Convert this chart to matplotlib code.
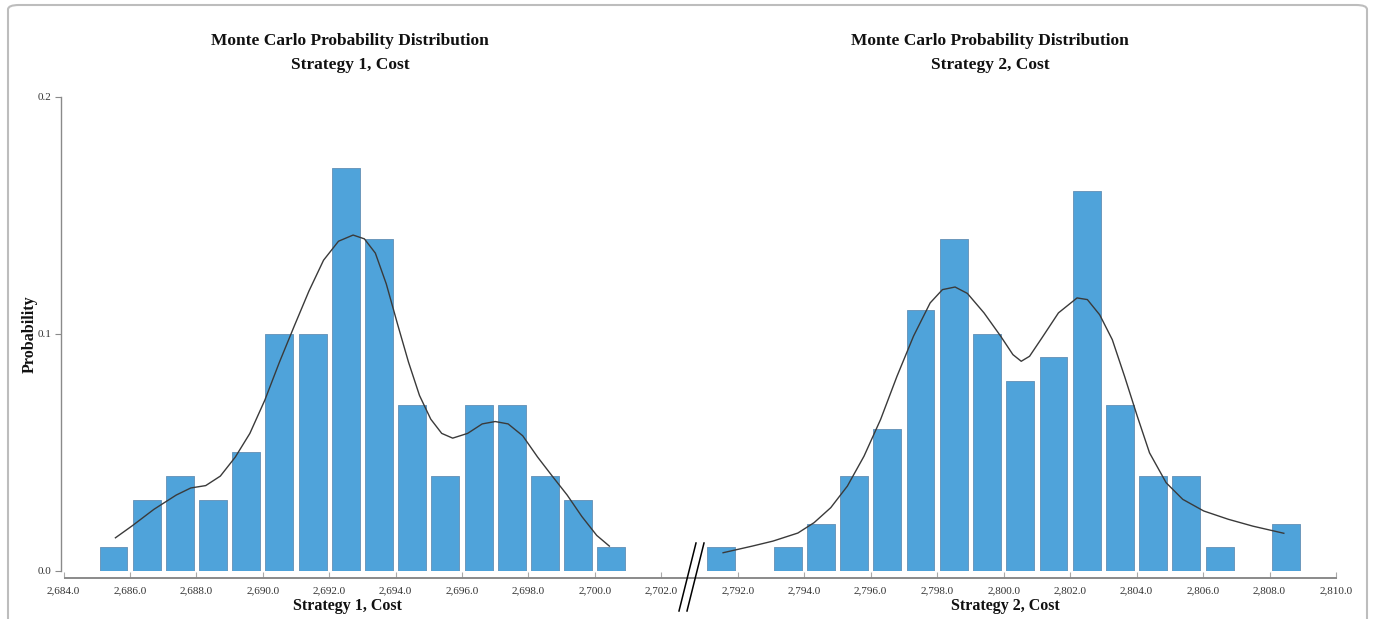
import matplotlib
matplotlib.use("Agg")
import matplotlib.pyplot as plt
from matplotlib.patches import FancyBboxPatch
from matplotlib.lines import Line2D
from matplotlib.ticker import FuncFormatter

# ---------------- data ----------------
s1_bins = [2685.5, 2686.5, 2687.5, 2688.5, 2689.5, 2690.5, 2691.5, 2692.5,
           2693.5, 2694.5, 2695.5, 2696.5, 2697.5, 2698.5, 2699.5, 2700.5]
s1_prob = [0.01, 0.03, 0.04, 0.03, 0.05, 0.10, 0.10, 0.17,
           0.14, 0.07, 0.04, 0.07, 0.07, 0.04, 0.03, 0.01]

s2_bins = [2791.5, 2792.5, 2793.5, 2794.5, 2795.5, 2796.5, 2797.5, 2798.5, 2799.5,
           2800.5, 2801.5, 2802.5, 2803.5, 2804.5, 2805.5, 2806.5, 2807.5, 2808.5]
s2_prob = [0.01, 0.0, 0.01, 0.02, 0.04, 0.06, 0.11, 0.14, 0.10,
           0.08, 0.09, 0.16, 0.07, 0.04, 0.04, 0.01, 0.0, 0.02]

s1_curve_x = [2685.56, 2686.06, 2686.72, 2687.39, 2687.83, 2688.28, 2688.72, 2689.17,
              2689.61, 2690.06, 2690.50, 2690.94, 2691.39, 2691.83, 2692.28, 2692.72,
              2693.06, 2693.39, 2693.72, 2694.06, 2694.39, 2694.72, 2695.06, 2695.39,
              2695.72, 2696.17, 2696.61, 2697.00, 2697.39, 2697.83, 2698.28, 2698.72,
              2699.17, 2699.61, 2700.06, 2700.44]
s1_curve_y = [0.014, 0.019, 0.026, 0.032, 0.035, 0.036, 0.040, 0.048,
              0.058, 0.072, 0.088, 0.103, 0.118, 0.131, 0.139, 0.1416,
              0.140, 0.134, 0.121, 0.104, 0.088, 0.074, 0.064, 0.058,
              0.056, 0.058, 0.062, 0.063, 0.062, 0.057, 0.048, 0.040,
              0.032, 0.023, 0.015, 0.0105]

s2_curve_x = [2791.56, 2792.44, 2793.06, 2793.81, 2794.30, 2794.80, 2795.30, 2795.80,
              2796.30, 2796.79, 2797.29, 2797.79, 2798.16, 2798.54, 2798.91, 2799.41,
              2799.91, 2800.28, 2800.53, 2800.78, 2801.15, 2801.65, 2802.21, 2802.52,
              2802.89, 2803.27, 2803.64, 2804.02, 2804.39, 2804.89, 2805.39, 2806.02,
              2806.76, 2807.50, 2808.43]
s2_curve_y = [0.0077, 0.0105, 0.0126, 0.016, 0.0204, 0.0267, 0.0358, 0.0484,
              0.0639, 0.082, 0.099, 0.113, 0.1186, 0.1197, 0.117, 0.1088,
              0.099, 0.0912, 0.0884, 0.0905, 0.0982, 0.1088, 0.1151, 0.1144,
              0.108, 0.0975, 0.082, 0.0653, 0.0498, 0.0372, 0.0302, 0.0253,
              0.0218, 0.0189, 0.0159]

s1_ticks = [2684, 2686, 2688, 2690, 2692, 2694, 2696, 2698, 2700, 2702]
s2_ticks = [2792, 2794, 2796, 2798, 2800, 2802, 2804, 2806, 2808, 2810]
y_ticks = [0.0, 0.1, 0.2]

title_line1 = "Monte Carlo Probability Distribution"
s1_title = "Strategy 1, Cost"
s2_title = "Strategy 2, Cost"
y_label = "Probability"

# ---------------- style ----------------
W, H = 1375, 619
plt.rcParams['font.family'] = ['Liberation Serif', 'DejaVu Serif']
bar_face = '#4FA3DA'
bar_edge = '#6C98BC'
curve_col = '#3a3a3a'
axis_col = '#8a8a8a'
text_col = '#333333'

fig = plt.figure(figsize=(W / 100, H / 100), dpi=100)

def fx(px):
    return px / W

def fy(py):
    return 1 - py / H

y_top_px, y_bot_px = 96.5, 571.0
ax1 = fig.add_axes([fx(61), fy(y_bot_px), fx(690) - fx(61), fy(y_top_px) - fy(y_bot_px)])
ax2 = fig.add_axes([fx(690), fy(y_bot_px), fx(1336) - fx(690), fy(y_top_px) - fy(y_bot_px)])

fmt = FuncFormatter(lambda v, p: f"{v:,.1f}")

for ax, bins, prob, cx, cy, ticks in [
        (ax1, s1_bins, s1_prob, s1_curve_x, s1_curve_y, s1_ticks),
        (ax2, s2_bins, s2_prob, s2_curve_x, s2_curve_y, s2_ticks)]:
    ax.bar(bins, prob, width=0.84, color=bar_face, edgecolor=bar_edge, linewidth=0.7, zorder=2)
    ax.plot(cx, cy, color=curve_col, lw=1.0, zorder=3)
    ax.set_ylim(0, 0.2)
    ax.set_xticks(ticks)
    ax.xaxis.set_major_formatter(fmt)
    ax.tick_params(axis='x', direction='in', length=4, width=0.8, color='#aaaaaa',
                   labelsize=8, labelcolor=text_col, pad=6)
    for sp in ['top', 'right']:
        ax.spines[sp].set_visible(False)
    ax.spines['bottom'].set_position(('outward', 4.7))
    ax.spines['bottom'].set_color(axis_col)
    ax.spines['bottom'].set_linewidth(1.4)
    ax.patch.set_alpha(0)

ax1.set_xlim(2683.92, 2702.87)
ax1.spines['bottom'].set_bounds(2684.05, 2702.87)
ax1.set_yticks(y_ticks)
ax1.yaxis.set_major_formatter(FuncFormatter(lambda v, p: f"{v:.1f}"))
ax1.spines['left'].set_color(axis_col)
ax1.spines['left'].set_linewidth(1.0)
ax1.tick_params(axis='y', direction='out', length=4, width=0.8, color=axis_col,
                labelsize=8, labelcolor=text_col, pad=3)

ax2.set_xlim(2790.565, 2810.0)
ax2.spines['left'].set_visible(False)
ax2.set_yticks([])

# titles and labels
tkw = dict(ha='center', va='center', fontsize=12.5, fontweight='bold', color='#111111')
fig.text(fx(350), fy(41), title_line1, **tkw)
fig.text(fx(350), fy(65), s1_title, **tkw)
fig.text(fx(990), fy(41), title_line1, **tkw)
fig.text(fx(990), fy(65), s2_title, **tkw)
lkw = dict(ha='center', va='center', fontsize=11.5, fontweight='bold', color='#111111')
fig.text(fx(347), fy(606), s1_title, **lkw)
fig.text(fx(1005), fy(606), s2_title, **lkw)
fig.text(fx(30), fy(334), y_label, rotation=90, **lkw)

# axis break marks
for dx in (0, 8):
    fig.add_artist(Line2D([fx(679 + dx), fx(696 + dx)], [fy(611), fy(543)],
                          transform=fig.transFigure, color='black', lw=1.1))

# outer frame
frame = FancyBboxPatch((fx(8), fy(660)), fx(1367) - fx(8), fy(5) - fy(660),
                       boxstyle="round,pad=0,rounding_size=0.008",
                       transform=fig.transFigure, facecolor='none',
                       edgecolor='#bdbdbd', lw=1.5, mutation_aspect=H / W * 2)
fig.add_artist(frame)

fig.savefig("out.png", dpi=100)
